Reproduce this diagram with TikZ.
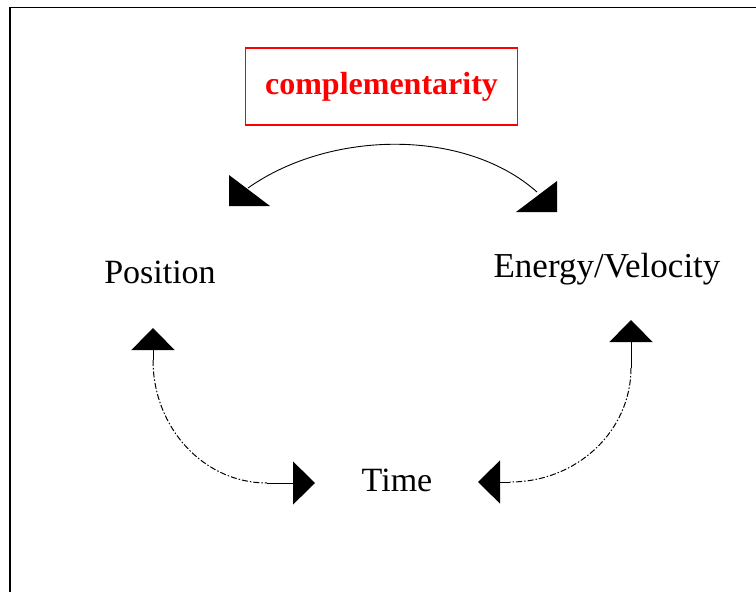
\documentclass[tikz,border=0pt]{standalone}
\usepackage{fontspec}
\setmainfont{Liberation Serif}
\usepackage{xcolor}
\usepackage{tikz}
\usetikzlibrary{arrows.meta}

\begin{document}
\begin{tikzpicture}[
    x=1pt, y=-1pt,
    label/.style={font=\fontsize{34}{40}\selectfont, inner sep=0pt, anchor=base},
    keyword/.style={draw=red, line width=1.3pt, text=red, font=\fontsize{32}{38}\selectfont\bfseries, minimum width=272pt, minimum height=77pt, inner sep=0pt},
    arc/.style={line width=0.9pt},
    dashline/.style={line width=1pt, dash pattern=on 6pt off 2pt on 1.5pt off 2pt},
    tip/.style={line width=1pt, -{Triangle[length=22pt, width=43pt]}}
]
\useasboundingbox (0,0) rectangle (756,592);
% frame (only top and left edges show)
\draw[line width=1.7pt] (10,592) -- (10,7.5) -- (756,7.5);

\node[keyword] (comp) at (381.5,86.5) {complementarity};
\node[label] (pos) at (160,283) {Position};
\node[label, font=\fontsize{35}{40}\selectfont] (energy) at (607,277) {Energy/Velocity};
\node[label] (time) at (397,491) {Time};

% top arc and its heads
\coordinate (topL) at (248,188);
\coordinate (topR) at (537,192);
\draw[arc] (topL) .. controls (330,130) and (465,128) .. (topR);
\fill (229,175) -- (229,206) -- (270,206) -- cycle;
\fill (557,181) -- (557,212) -- (516,212) -- cycle;

% position <-> time
\coordinate (posTip) at (153,328);
\coordinate (posEnd) at (153,360);
\coordinate (timeIn) at (267,483);
\coordinate (timeTipL) at (315,483);
\draw[tip] (posEnd) -- (posTip);
\draw[dashline] (posEnd) .. controls (153,428) and (204,483) .. (timeIn);
\draw[tip] (timeIn) -- (timeTipL);

% energy <-> time
\coordinate (enTip) at (631,320);
\coordinate (enEnd) at (631,368);
\coordinate (timeOut) at (510,482);
\coordinate (timeTipR) at (478,482);
\draw[tip] (enEnd) -- (enTip);
\draw[dashline] (enEnd) .. controls (631,431) and (577,482) .. (timeOut);
\draw[tip] (timeOut) -- (timeTipR);
\end{tikzpicture}
\end{document}
